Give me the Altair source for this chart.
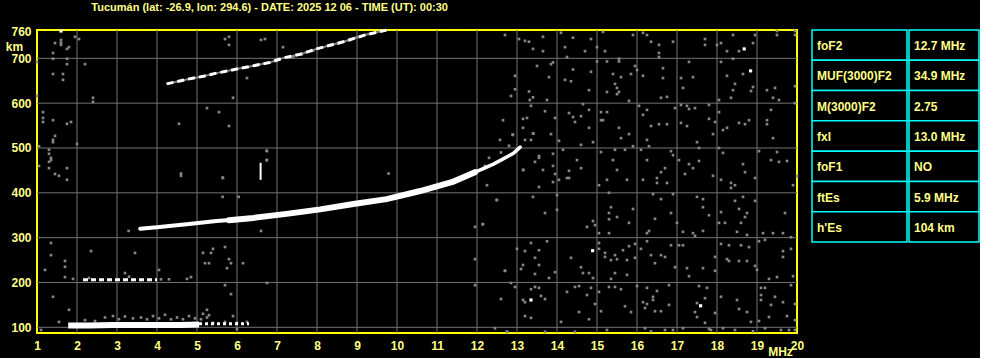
import altair as alt
import pandas as pd

TXT = "#ffff88"
YEL = "#ffff00"
CYAN = "#00ffff"
GRID = "#747474"
NOISE = "#878787"
WHITE = "#ffffff"
FONT = "Liberation Sans"

title_text = "Tucumán (lat: -26.9, lon: 294.6) - DATE: 2025 12 06 - TIME (UT): 00:30"

x_ticks = list(range(1, 21))
y_ticks = [100, 200, 300, 400, 500, 600, 700, 760]
grid_f = list(range(2, 20))
grid_h = [100, 200, 300, 400, 500, 600, 700]

params = ["foF2", "MUF(3000)F2", "M(3000)F2", "fxl", "foF1", "ftEs", "h'Es"]
values = ["12.7 MHz", "34.9 MHz", "2.75", "13.0 MHz", "NO", "5.9 MHz", "104 km"]

# F2 trace (ordinary): thin start, thick body, thin tail
f2_start = [(3.58, 320), (4.0, 323), (4.74, 330), (5.49, 337), (5.9, 340)]
f2_main = [(5.8, 339), (6.41, 344), (7.24, 353), (8.08, 363), (8.91, 375), (9.74, 386),
           (10.58, 404), (11.41, 425), (11.95, 446)]
f2_tail = [(11.9, 444), (12.41, 464), (12.91, 488), (13.08, 502)]
# second hop F2
hop2 = [(4.24, 643), (4.74, 653), (5.16, 660), (5.49, 667), (5.99, 676), (6.33, 682),
        (6.83, 691), (7.16, 701), (7.58, 709), (7.99, 721), (8.28, 728), (8.66, 737),
        (9.24, 753), (9.74, 763)]
# sporadic E
es_main = [(1.78, 104), (2.3, 104), (2.9, 105), (3.5, 105), (4.1, 105), (4.6, 105), (5.05, 106)]
es_tail = [(5.05, 108), (6.3, 108)]
es_hop2 = [(2.15, 206), (4.0, 206)]
es_fringe = [(2.7, 122), (2.9, 125), (3.05, 118), (3.2, 124), (3.4, 120), (3.6, 122), (3.75, 118),
             (3.9, 125), (4.05, 120), (4.2, 128), (4.35, 118), (4.5, 122), (4.65, 118), (4.8, 125),
             (4.95, 120), (5.1, 118), (5.25, 122), (2.2, 116), (2.45, 114), (4.1, 207), (4.3, 207),
             (2.3, 210), (3.3, 213), (5.4, 110), (5.7, 112), (6.0, 110), (7.33, 703), (7.41, 703),
             (7.62, 709), (7.91, 718), (8.53, 733), (8.83, 741), (8.99, 747), (12.3, 478),
             (12.6, 490), (12.8, 505), (12.2, 460)]
vdash = [(6.59, 429, 467)]
white_dots = [(1.6, 761), (18.68, 721), (18.84, 672), (14.89, 271), (13.35, 161), (17.59, 148)]

noise_upper_right = [
    (12.70, 752), (13.05, 743), (13.20, 739), (13.30, 737), (13.40, 721), (13.65, 748), (13.65, 716),
    (14.10, 757), (14.40, 746), (14.20, 725), (14.70, 716), (14.85, 743), (14.25, 703), (15.00, 725),
    (15.20, 716), (15.15, 759), (15.90, 752), (16.15, 757), (16.25, 752), (16.35, 737), (16.55, 730),
    (16.55, 712), (16.55, 703), (16.90, 737), (17.70, 743), (17.70, 730), (18.00, 730), (18.10, 734),
    (18.25, 716), (18.40, 752), (18.55, 716), (18.90, 734), (18.95, 752), (19.50, 761), (19.50, 752),
    (19.95, 761), (19.95, 752),
    (13.90, 691), (13.85, 687), (13.50, 683), (12.95, 661), (13.80, 658), (12.95, 631), (12.85, 616),
    (13.30, 626), (13.40, 613), (13.32, 607), (13.75, 607), (14.20, 652), (14.35, 649), (14.40, 675),
    (14.85, 670), (14.80, 629), (15.00, 693), (15.25, 693), (15.55, 699), (15.55, 693), (15.95, 683),
    (16.00, 674), (15.40, 665), (15.60, 658), (15.85, 665), (15.45, 643), (15.50, 634), (15.55, 625),
    (15.50, 620), (15.25, 625), (15.80, 605), (16.15, 661), (16.65, 678), (16.65, 656), (16.60, 612),
    (16.75, 614), (17.10, 656), (17.40, 658), (17.15, 634), (17.30, 692), (18.10, 692), (18.40, 699),
    (18.25, 661), (18.45, 643), (18.40, 629), (18.65, 665), (18.90, 636), (18.85, 627), (18.35, 612),
    (18.05, 607), (19.25, 629), (19.45, 634), (19.40, 612), (19.55, 607), (19.95, 638), (19.95, 600)]

noise_mid_right = [
    (13.35, 594), (13.15, 565), (13.25, 567), (13.70, 582), (13.95, 567), (14.30, 578), (14.40, 569),
    (14.60, 571), (14.80, 585), (14.65, 598), (14.45, 558), (12.65, 562), (12.90, 529), (13.15, 545),
    (13.40, 533), (13.35, 518), (13.20, 518), (13.85, 531), (14.05, 516), (14.60, 507), (14.80, 545),
    (14.90, 513), (15.10, 580), (15.25, 580), (15.10, 562), (15.15, 562), (15.55, 545), (15.80, 531),
    (15.60, 522), (15.90, 504), (16.05, 594), (16.15, 574), (16.25, 585), (16.35, 549), (16.55, 553),
    (16.75, 553), (16.25, 518), (16.30, 504), (16.95, 589), (17.10, 596), (17.10, 556), (17.25, 594),
    (17.30, 587), (17.45, 589), (17.25, 549), (17.50, 513), (17.80, 596), (18.05, 580), (17.80, 565),
    (17.95, 558), (17.90, 531), (18.25, 545), (18.15, 540), (18.55, 556), (18.70, 553), (18.80, 562),
    (19.25, 562), (19.25, 553), (19.35, 585), (19.40, 522),
    (13.45, 469), (13.55, 478), (13.55, 482), (13.90, 487), (13.90, 460), (13.15, 451), (13.65, 451),
    (13.95, 442), (14.15, 496), (14.30, 449), (14.50, 473), (14.60, 455), (14.25, 433), (15.10, 491),
    (15.40, 473), (15.50, 451), (15.45, 496), (15.70, 496), (16.10, 496), (16.25, 473), (16.50, 433),
    (16.60, 446), (16.70, 455), (16.85, 493), (16.90, 484), (17.05, 473), (17.20, 442), (17.30, 464),
    (17.55, 471), (17.40, 455), (17.55, 500), (17.90, 438), (18.05, 500), (18.15, 489), (18.65, 464),
    (18.70, 446), (18.95, 433), (19.05, 493), (19.35, 473), (19.50, 491), (19.55, 469), (19.75, 471),
    (20.00, 437)]

noise_lower_right = [
    (13.55, 413), (13.90, 424), (14.05, 429), (14.30, 433), (15.05, 417), (15.25, 429), (15.75, 429),
    (16.15, 429), (16.50, 422), (16.75, 422), (18.10, 429), (18.35, 422), (18.35, 411), (18.45, 417),
    (19.90, 417),
    (13.40, 391), (13.70, 355), (14.00, 395), (14.00, 362), (14.75, 324), (14.90, 337), (14.95, 328),
    (15.05, 310), (15.30, 400), (15.30, 355), (15.35, 368), (15.30, 341), (15.50, 346), (15.80, 333),
    (15.90, 364), (15.30, 310), (16.30, 315), (16.25, 310), (16.40, 397), (16.60, 386), (16.85, 355),
    (16.90, 397), (16.45, 342), (17.00, 333), (17.15, 313), (17.40, 310), (17.45, 304), (17.65, 315),
    (17.50, 391), (17.65, 386), (17.65, 368), (17.80, 350), (18.10, 357), (18.05, 333), (18.20, 333),
    (18.45, 382), (18.55, 364), (18.65, 391), (18.75, 355), (18.95, 382), (18.60, 333), (18.70, 346),
    (18.50, 313), (18.75, 306), (19.15, 310), (19.40, 310), (19.65, 310), (19.70, 355), (19.85, 301),
    (13.35, 288), (13.20, 270), (13.55, 272), (13.45, 255), (13.10, 230), (13.15, 239), (13.45, 219),
    (13.55, 239), (13.80, 210), (13.95, 223), (13.75, 292), (12.70, 226), (14.35, 255), (14.60, 234),
    (14.65, 221), (14.80, 221), (14.90, 210), (15.05, 288), (15.05, 275), (15.20, 266), (15.20, 257),
    (15.35, 250), (15.45, 261), (15.50, 252), (15.65, 272), (15.80, 281), (15.95, 286), (15.95, 255),
    (15.75, 250), (15.35, 208), (15.45, 221), (15.75, 217), (16.10, 275), (16.25, 292), (16.35, 261),
    (16.45, 243), (16.60, 261), (16.70, 257), (16.85, 283), (16.95, 234), (17.05, 283), (17.15, 283),
    (17.25, 232), (17.30, 214), (17.65, 232), (17.95, 257), (17.95, 226), (18.10, 286), (18.30, 283),
    (18.25, 252), (18.30, 248), (18.55, 248), (18.75, 248), (18.60, 283), (18.80, 279), (18.95, 237),
    (19.00, 228), (19.05, 292), (19.20, 295), (19.30, 208), (19.50, 212), (19.65, 270), (19.65, 257),
    (19.85, 275), (19.90, 214),
    (13.35, 185), (13.45, 190), (13.55, 188), (13.60, 170), (13.20, 156), (13.15, 161), (13.70, 163),
    (14.25, 179), (14.45, 190), (14.55, 192), (14.75, 172), (14.85, 188), (15.05, 179), (15.30, 190),
    (15.45, 190), (15.60, 185), (15.10, 136), (14.55, 134), (14.95, 152), (14.80, 118), (14.10, 112),
    (13.20, 125), (13.35, 121), (16.25, 188), (16.40, 168), (16.50, 181), (16.00, 192), (16.15, 156),
    (16.20, 143), (16.25, 152), (16.40, 161), (16.45, 136), (16.60, 136), (16.80, 150), (16.80, 194),
    (15.70, 147), (15.85, 134), (17.55, 192), (17.75, 188), (17.50, 154), (17.70, 165), (17.45, 134),
    (17.50, 123), (17.70, 110), (17.95, 132), (17.80, 96), (18.10, 168), (18.50, 161), (18.55, 141),
    (18.75, 134), (19.10, 188), (19.10, 172), (19.10, 161), (19.20, 188), (19.45, 168), (19.35, 150),
    (19.30, 123), (19.65, 156), (19.75, 125), (19.85, 194), (19.95, 152), (19.95, 116), (18.85, 112),
    (19.05, 114),
    (12.75, 90), (13.70, 90), (14.45, 90), (15.25, 94), (16.20, 98), (16.35, 91), (16.70, 94),
    (16.90, 94), (17.15, 98), (17.85, 94), (18.15, 98), (18.45, 94), (18.90, 91), (19.20, 98),
    (19.60, 94), (19.80, 94), (19.95, 94)]

noise_left = [
    (1.45, 734), (1.6, 741), (1.6, 735), (1.6, 730), (1.8, 725), (1.75, 721), (1.95, 748), (2.05, 743),
    (1.4, 712), (1.4, 699), (1.75, 699), (1.75, 687), (2.2, 687), (1.4, 665), (1.65, 665), (1.65, 652),
    (1.0, 692), (2.4, 612), (2.4, 603), (1.0, 616), (1.15, 580), (1.15, 567), (1.15, 558), (1.4, 562),
    (1.75, 554), (1.85, 558), (1.45, 527), (1.4, 518), (1.4, 513), (2.0, 509), (1.05, 504), (1.3, 496),
    (1.3, 487), (1.35, 478), (1.35, 473), (1.3, 469), (1.3, 455), (1.05, 460), (1.45, 442), (1.55, 438),
    (1.75, 455), (1.75, 429), (4.55, 554), (5.25, 589), (5.55, 580), (5.8, 549), (5.9, 612), (6.25, 656),
    (4.6, 438), (5.65, 433), (5.7, 743), (5.8, 748), (5.8, 730), (6.6, 741), (6.7, 743), (7.15, 725),
    (6.75, 493), (6.75, 473),
    (1.35, 288), (1.35, 261), (2.35, 270), (3.45, 266), (1.7, 248), (1.7, 235), (1.2, 228), (1.7, 212),
    (1.9, 208), (3.2, 221), (4.05, 228), (5.15, 266), (5.35, 266), (5.4, 275), (5.7, 279), (5.8, 252),
    (5.85, 243), (5.75, 232), (5.2, 243), (5.3, 243), (6.15, 243), (4.85, 212), (4.75, 208), (6.75, 199),
    (5.7, 194), (5.85, 174), (1.4, 168), (1.8, 139), (1.55, 112), (5.25, 139), (5.3, 127), (5.15, 130),
    (5.9, 125), (6.0, 96), (6.25, 112), (1.1, 94),
    (12.25, 417), (12.5, 384), (12.15, 330), (11.95, 324), (11.95, 252), (12.7, 226), (11.95, 194),
    (12.85, 199), (12.95, 190), (12.6, 163), (12.45, 98), (12.75, 90), (13.0, 275),
    (4.6, 443), (5.64, 434), (5.64, 391), (6.04, 391), (6.74, 494), (6.74, 473), (9.79, 443),
    (3.29, 315), (6.6, 315), (12.49, 384), (12.14, 330), (12.89, 530), (12.575, 518), (13.41, 532),
    (13.16, 451)]


def pts(pairs):
    return pd.DataFrame(pairs, columns=["f", "h"])


xs = alt.Scale(domain=[1, 20], nice=False, zero=False)
ys = alt.Scale(domain=[87.3, 763.2], nice=False, zero=False)

xaxis = alt.Axis(values=x_ticks, grid=False, ticks=False, domain=False, labelPadding=7,
                 labelFlush=False, labelOverlap=False, title="MHz", titleX=743, titleY=18,
                 titleAlign="center", titleBaseline="middle", titleAngle=0)
yaxis = alt.Axis(values=y_ticks, grid=False, ticks=False, domain=False, labelPadding=6,
                 labelFlush=False, labelOverlap=False, title="km", titleX=-23, titleY=16,
                 titleAlign="center", titleBaseline="middle", titleAngle=0)

X = alt.X("f:Q", scale=xs, axis=xaxis)
Y = alt.Y("h:Q", scale=ys, axis=yaxis)

vgrid = alt.Chart(pd.DataFrame({"f": grid_f})).mark_rule(color=GRID, strokeWidth=1).encode(x=X)
hgrid = alt.Chart(pd.DataFrame({"h": grid_h})).mark_rule(color=GRID, strokeWidth=1).encode(y=Y)

noise_all = noise_upper_right + noise_mid_right + noise_lower_right + noise_left + es_fringe
noise = alt.Chart(pts(noise_all)).mark_square(size=7, color=NOISE, opacity=1).encode(x=X, y=Y)

hop2_grey = alt.Chart(pts(hop2)).mark_line(color=NOISE, strokeWidth=2).encode(x=X, y=Y)
hop2_white = alt.Chart(pts(hop2)).mark_line(color=WHITE, strokeWidth=3, strokeDash=[7, 4]).encode(x=X, y=Y)
f2s = alt.Chart(pts(f2_start)).mark_line(color=WHITE, strokeWidth=4, strokeCap="round").encode(x=X, y=Y)
f2a = alt.Chart(pts(f2_main)).mark_line(color=WHITE, strokeWidth=6, strokeCap="round").encode(x=X, y=Y)
f2b = alt.Chart(pts(f2_tail)).mark_line(color=WHITE, strokeWidth=3.5, strokeCap="round").encode(x=X, y=Y)
esa = alt.Chart(pts(es_main)).mark_line(color=WHITE, strokeWidth=6).encode(x=X, y=Y)
esb = alt.Chart(pts(es_tail)).mark_line(color=WHITE, strokeWidth=3, strokeDash=[3, 3]).encode(x=X, y=Y)
esc = alt.Chart(pts(es_hop2)).mark_line(color=WHITE, strokeWidth=3, strokeDash=[5, 3]).encode(x=X, y=Y)
vd = alt.Chart(pd.DataFrame(vdash, columns=["f", "h", "h2"])).mark_rule(
    color=WHITE, strokeWidth=2).encode(x=X, y=Y, y2="h2:Q")
wd = alt.Chart(pts(white_dots)).mark_square(size=10, color=WHITE, opacity=1).encode(x=X, y=Y)

plot = alt.layer(vgrid, hgrid, noise, hop2_grey, hop2_white, f2s, f2a, f2b, esa, esb, esc, vd, wd).properties(
    width=760, height=303, view=alt.ViewBackground(stroke=YEL, strokeWidth=2))

tbl = pd.DataFrame({"param": params, "value": values})
TY = alt.Y("param:N", sort=params, scale=alt.Scale(paddingInner=0, paddingOuter=0), axis=None)


def column(field, w):
    cells = alt.Chart(tbl).mark_rect(fill="black", stroke=CYAN, strokeWidth=1.5).encode(y=TY)
    txt = alt.Chart(tbl).mark_text(align="left", baseline="middle", dy=1, font=FONT, fontSize=12,
                                   fontWeight="bold", color=TXT).encode(
        y=TY, x=alt.value(5), text=f"{field}:N")
    return alt.layer(cells, txt).properties(width=w, height=212)


table = alt.hconcat(column("param", 95), column("value", 70), spacing=0)

chart = alt.hconcat(plot, table, spacing=15, bounds="flush").properties(
    title=alt.Title(title_text, anchor="start", dx=87, offset=10, font=FONT, fontSize=11,
                    fontWeight="bold", color=TXT),
    padding={"left": 4, "top": 2, "right": 0, "bottom": 0},
    background="black",
).configure_view(strokeWidth=0).configure_axis(
    labelFont=FONT, labelFontSize=12, labelFontWeight="bold", labelColor=TXT,
    titleFont=FONT, titleFontSize=12, titleFontWeight="bold", titleColor=TXT,
)

chart.save("out.html", embed_options={"renderer": "svg", "actions": False})
